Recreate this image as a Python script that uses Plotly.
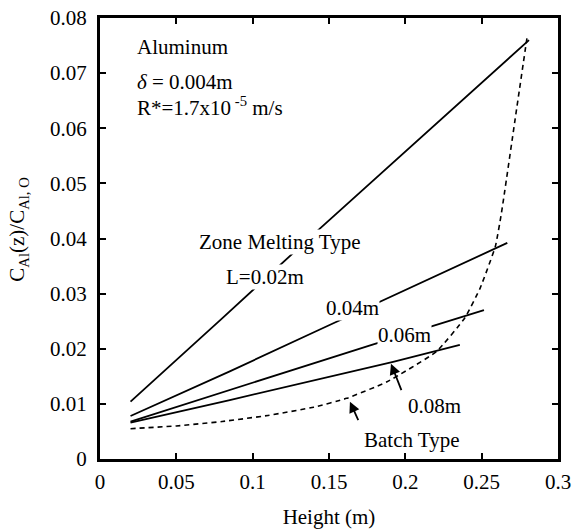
import plotly.graph_objects as go

# Data
x_l002 = [0.02, 0.08, 0.14, 0.20, 0.281]
y_l002 = [0.0104, 0.0255, 0.0408, 0.0558, 0.0760]

x_l004 = [0.02, 0.085, 0.144, 0.2668]
y_l004 = [0.0078, 0.0159, 0.0235, 0.0392]

x_l006 = [0.02, 0.085, 0.178, 0.2515]
y_l006 = [0.0068, 0.0125, 0.0207, 0.0270]

x_l008 = [0.02, 0.085, 0.192, 0.2357]
y_l008 = [0.0066, 0.0107, 0.0176, 0.0207]

x_batch = [0.02, 0.05, 0.08, 0.11, 0.14, 0.1615, 0.188, 0.2204, 0.239, 0.249, 0.259, 0.263, 0.272, 0.28]
y_batch = [0.0055, 0.0060, 0.0068, 0.0079, 0.0094, 0.0110, 0.0140, 0.0195, 0.0256, 0.0310, 0.0386, 0.0447, 0.0618, 0.0770]

x_ticks = [0, 0.05, 0.1, 0.15, 0.2, 0.25, 0.3]
x_tick_text = ["0", "0.05", "0.1", "0.15", "0.2", "0.25", "0.3"]
y_ticks = [0, 0.01, 0.02, 0.03, 0.04, 0.05, 0.06, 0.07, 0.08]
y_tick_text = ["0", "0.01", "0.02", "0.03", "0.04", "0.05", "0.06", "0.07", "0.08"]

FONT = "Liberation Serif, Times New Roman, serif"

fig = go.Figure()
line_style = dict(color="black", width=1.8)
for xs, ys in [(x_l002, y_l002), (x_l004, y_l004), (x_l006, y_l006), (x_l008, y_l008)]:
    fig.add_trace(go.Scatter(x=xs, y=ys, mode="lines", line=line_style,
                             showlegend=False, hoverinfo="skip"))
fig.add_trace(go.Scatter(x=x_batch, y=y_batch, mode="lines",
                         line=dict(color="black", width=1.6, dash="5px,4px", shape="spline", smoothing=0.4),
                         showlegend=False, hoverinfo="skip"))

fs = 21
ann = []
def txt(x, y, t, xanchor="center", bg=None):
    d = dict(x=x, y=y, text=t, showarrow=False, xanchor=xanchor, yanchor="middle",
             font=dict(family=FONT, size=fs, color="black"))
    if bg:
        d["bgcolor"] = bg
        d["borderpad"] = 0
    ann.append(d)

txt(0.0229, 0.0747, "Aluminum", "left")
txt(0.0229, 0.0684, "<i>δ</i> = 0.004m", "left")
txt(0.0229, 0.0640, "R*=1.7x10<sup> -5</sup> m/s", "left")
txt(0.1179, 0.0393, "Zone Melting Type", bg="white")
txt(0.1080, 0.0331, "L=0.02m", bg="white")
txt(0.1657, 0.02745, "0.04m", bg="white")
txt(0.1997, 0.02255, "0.06m", bg="white")
txt(0.2194, 0.00964, "0.08m")
txt(0.2041, 0.00345, "Batch Type")

# arrows
ann.append(dict(x=0.1906, y=0.0173, ax=11, ay=28, showarrow=True, arrowhead=2,
                arrowsize=1.2, arrowwidth=1.8, arrowcolor="black", text=""))
ann.append(dict(x=0.1637, y=0.0104, ax=9, ay=20, showarrow=True, arrowhead=2,
                arrowsize=1.2, arrowwidth=1.8, arrowcolor="black", text=""))

# y-axis title
ann.append(dict(xref="paper", yref="paper", x=-0.179, y=0.52, xanchor="center", yanchor="middle",
                text="C<sub>Al</sub>(z)/C<sub>Al, O</sub>", textangle=-90, showarrow=False,
                font=dict(family=FONT, size=fs, color="black")))

fig.update_layout(
    width=573, height=529,
    margin=dict(l=100, r=15, t=18, b=70),
    paper_bgcolor="white", plot_bgcolor="white",
    annotations=ann,
    font=dict(family=FONT, size=fs, color="black"),
)
axis_common = dict(showgrid=False, zeroline=False, showline=True, linecolor="black",
                   linewidth=3, mirror="allticks", ticks="inside", ticklen=6,
                   tickwidth=1.5, tickcolor="black", automargin=False,
                   tickfont=dict(family=FONT, size=fs, color="black"))
fig.update_xaxes(range=[0, 0.3], tickvals=x_ticks, ticktext=x_tick_text, ticklabelstandoff=2,
                 title=dict(text="Height (m)", font=dict(family=FONT, size=fs), standoff=18),
                 **axis_common)
fig.update_yaxes(range=[0, 0.08], tickvals=y_ticks, ticktext=y_tick_text, ticklabelstandoff=6,
                 **axis_common)

fig.write_html("out.html")
